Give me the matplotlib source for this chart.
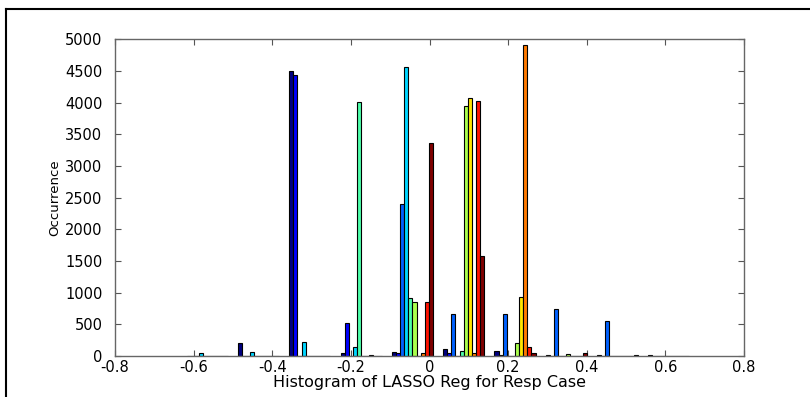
import numpy as np
import matplotlib.pyplot as plt
from matplotlib.lines import Line2D

# bin centres of the 10 histogram bins (x values)
bin_centers = [-0.5655, -0.435, -0.3045, -0.174, -0.0435, 0.087, 0.2175, 0.348, 0.4785, 0.609]

# counts per series (one list per coefficient, jet colour order)
navy = [0, 200, 4505, 55, 65, 105, 84, 10, 10, 10]
blue = [0, 0, 4437, 526, 45, 40, 20, 0, 0, 0]
midblue = [0, 0, 0, 0, 2400, 663, 663, 737, 553, 0]
cyan = [55, 60, 215, 137, 4570, 0, 0, 0, 0, 0]
aqua = [0, 0, 0, 4015, 920, 85, 0, 0, 0, 0]
yellowgreen = [0, 0, 0, 0, 857, 3950, 200, 25, 0, 0]
yellow = [0, 0, 0, 0, 0, 4080, 927, 0, 0, 0]
orange = [0, 0, 0, 10, 40, 40, 4910, 0, 0, 0]
red = [0, 0, 0, 0, 857, 4025, 137, 0, 0, 0]
darkred = [0, 0, 0, 0, 3360, 1580, 40, 50, 10, 0]

series = [navy, blue, midblue, cyan, aqua, yellowgreen, yellow, orange, red, darkred]

xticks = [-0.8, -0.6, -0.4, -0.2, 0, 0.2, 0.4, 0.6, 0.8]
xtick_labels = ['-0.8', '-0.6', '-0.4', '-0.2', '0', '0.2', '0.4', '0.6', '0.8']
yticks = list(range(0, 5001, 500))

plt.rcParams['font.family'] = ['DejaVu Sans']

fig = plt.figure(figsize=(8.10, 3.97), dpi=100)
ax = fig.add_axes([0.142, 0.1033, 0.7765, 0.7977])

n = len(series)
spacing = bin_centers[1] - bin_centers[0]
bw = 0.8 * spacing / n
colors = plt.cm.jet(np.linspace(0, 1, n))
x = np.array(bin_centers)
for i, counts in enumerate(series):
    ax.bar(x + (i - (n - 1) / 2) * bw, counts, width=bw, color=colors[i],
           edgecolor='black', linewidth=0.8, zorder=2)

ax.set_xlim(-0.8, 0.8)
ax.set_ylim(0, 5000)
ax.set_xticks(xticks)
ax.set_xticklabels(xtick_labels)
ax.set_yticks(yticks)
ax.tick_params(direction='in', top=True, right=True, length=4, width=0.8,
               color='#555555', labelsize=10.5)
ax.tick_params(axis='y', pad=9)
ax.tick_params(axis='x', pad=3)
for sp in ax.spines.values():
    sp.set_color('#666666')
    sp.set_linewidth(1.0)

ax.set_xlabel('Histogram of LASSO Reg for Resp Case', fontsize=11.5, labelpad=0)
ax.set_ylabel('Occurrence', fontsize=9.5, family=['Liberation Sans Narrow', 'DejaVu Sans'],
              labelpad=3)

# outer frame of the screenshot
W, H = 810, 397
fig.add_artist(Line2D([6 / W, 1], [1 - 9 / H, 1 - 9 / H], color='black', lw=1.5,
                      transform=fig.transFigure))
fig.add_artist(Line2D([6 / W, 6 / W], [0, 1 - 9 / H], color='black', lw=1.5,
                      transform=fig.transFigure))

fig.savefig('out.png', dpi=100)
